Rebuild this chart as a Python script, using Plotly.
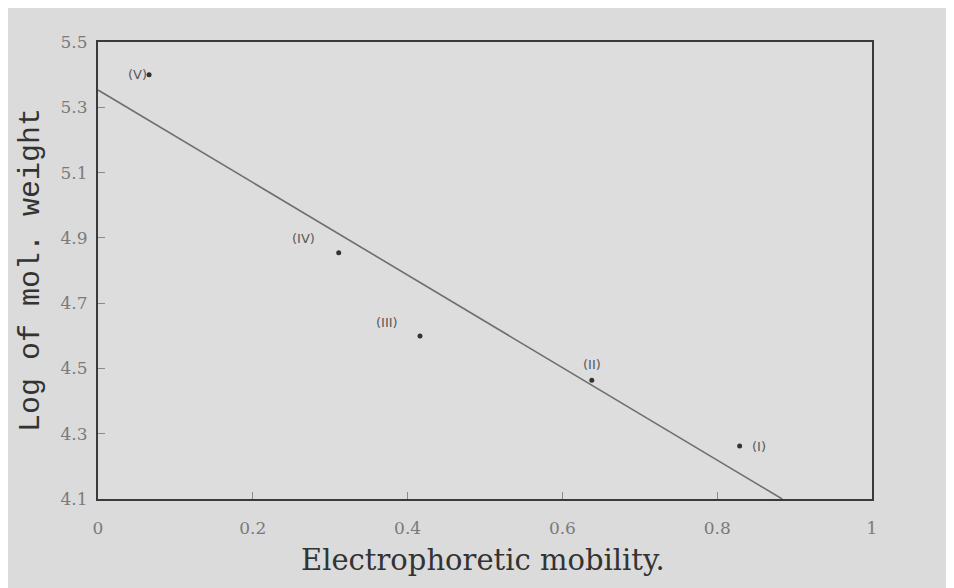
import plotly.graph_objects as go

# Data
point_labels = ["(V)", "(IV)", "(III)", "(II)", "(I)"]
mobility = [0.066, 0.311, 0.416, 0.638, 0.829]
log_mw = [5.40, 4.854, 4.599, 4.464, 4.262]

line_x = [0.0, 0.884]
line_y = [5.353, 4.10]

x_ticks = [0, 0.2, 0.4, 0.6, 0.8, 1]
x_tick_text = ["0", "0.2", "0.4", "0.6", "0.8", "1"]
y_ticks = [4.1, 4.3, 4.5, 4.7, 4.9, 5.1, 5.3, 5.5]
y_tick_text = ["4.1", "4.3", "4.5", "4.7", "4.9", "5.1", "5.3", "5.5"]

W, H = 954, 588
L, R, T, B = 90, 90, 34, 97

fig = go.Figure()

fig.add_trace(go.Scatter(
    x=line_x, y=line_y, mode="lines",
    line=dict(color="#6e6e6e", width=1.6),
    hoverinfo="skip", showlegend=False,
))

fig.add_trace(go.Scatter(
    x=mobility, y=log_mw, mode="markers",
    marker=dict(color="#333333", size=5),
    showlegend=False,
))

# point labels: pixel offsets of each label from its point
label_offsets = [(-12, 0), (-35, 14), (-33, 14), (0, 16), (19, 0)]
for lab, xv, yv, (dx, dy) in zip(point_labels, mobility, log_mw, label_offsets):
    fig.add_annotation(
        x=xv, y=yv, text=lab, showarrow=False,
        xshift=dx, yshift=dy, xanchor="center", yanchor="middle",
        font=dict(family="DejaVu Sans", size=13, color="#585858"),
    )

axis_common = dict(
    showline=True, linecolor="#3a3a3a", linewidth=2, mirror=True,
    showgrid=False, zeroline=False,
    ticks="inside", ticklen=7, tickcolor="#8a8a8a", tickwidth=1,
    tickfont=dict(family="DejaVu Serif", size=17, color="#7a7a7a"),
)

fig.update_xaxes(range=[0, 1], tickvals=x_ticks, ticktext=x_tick_text,
                 ticklabelstandoff=13, **axis_common)
fig.update_yaxes(range=[4.1, 5.5], tickvals=y_ticks, ticktext=y_tick_text,
                 ticklabelstandoff=5, **axis_common)

plot_w = W - L - R
plot_h = H - T - B

fig.add_annotation(
    xref="paper", yref="paper",
    x=(475 - L) / plot_w, y=(H - B - 552) / plot_h,
    xanchor="center", yanchor="middle",
    text="Electrophoretic mobility.", showarrow=False,
    font=dict(family="DejaVu Serif", size=29, color="#333333"),
)
fig.add_annotation(
    xref="paper", yref="paper",
    x=(23 - L) / plot_w, y=(H - B - 262) / plot_h,
    xanchor="center", yanchor="middle",
    text="Log of mol. weight", showarrow=False, textangle=-90,
    font=dict(family="Liberation Mono", size=30, color="#333333"),
)

fig.update_layout(
    width=W, height=H,
    margin=dict(l=L, r=R, t=T, b=B),
    paper_bgcolor="#dbdbdb",
    plot_bgcolor="#dddddd",
    showlegend=False,
)

fig.write_html("out.html")
